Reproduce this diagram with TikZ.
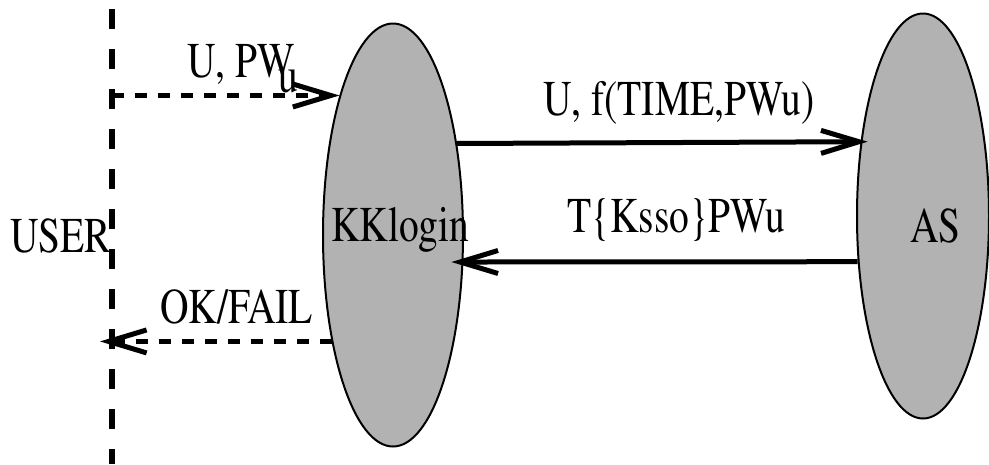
\documentclass[tikz,border=0pt]{standalone}
\usepackage[T1]{fontenc}
\usepackage{mathptmx}
\usetikzlibrary{shapes.geometric,arrows.meta,calc}
\newcommand{\sqz}[1]{\scalebox{0.79}[1]{#1}}
\tikzset{
  party/.style={ellipse, draw=black, line width=2pt, fill=black!30, inner sep=0pt},
  lbl/.style={anchor=base west, inner sep=0pt, font=\fontsize{50}{60}\selectfont},
  msg/.style={line width=5pt, -{Straight Barb[length=38pt,width=23pt]}},
  dmsg/.style={msg, dash pattern=on 12pt off 11pt},
  lifeline/.style={line width=6pt, dash pattern=on 20pt off 20pt}
}
\begin{document}
\begin{tikzpicture}[x=1pt,y=-1pt]
\useasboundingbox (0,0) rectangle (989,464);
% lifeline of the user
\coordinate (utop) at (112,9);
\coordinate (ubot) at (112,464);
\draw[lifeline] (utop) -- (ubot);
% parties
\node[party, minimum width=140pt, minimum height=423pt] (kk) at (393,235) {};
\node[party, minimum width=132pt, minimum height=405pt] (as) at (923,216) {};
% labels
\node[lbl] (user) at (10,252) {\sqz{USER}};
\node[lbl] (kkl) at (331,241) {\sqz{KKlogin}};
\node[lbl] (asl) at (910,242) {\sqz{AS}};
% messages
\draw[dmsg] (utop |- kk.111.3) -- (kk.111.3);
\node[lbl] (m1) at (187,77) {\sqz{U, PW}};
\node[lbl] (m1u) at (278,92) {\sqz{u}};
\draw[msg] (kk.55.6) -- ([xshift=7pt]as.130.2);
\node[lbl] (m2) at (543,115) {\sqz{U, f(TIME,PWu)}};
\draw[msg] (as.215.6) -- ([xshift=-12pt]kk.-21.3);
\node[lbl] (m3) at (567,232) {\sqz{T\{Ksso\}PWu}};
\coordinate (okend) at ($(utop |- kk.240.9)+(-12,0)$);
\draw[dmsg] (kk.240.9) -- (okend);
\node[lbl] (m4) at (160,323) {\sqz{OK/FAIL}};
\end{tikzpicture}
\end{document}
